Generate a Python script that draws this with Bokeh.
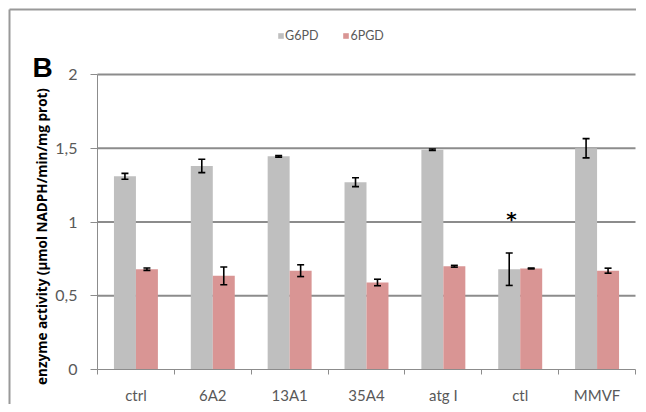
import numpy as np
from bokeh.plotting import figure
from bokeh.models import (ColumnDataSource, Range1d, FixedTicker, CustomJSTickFormatter,
                          Whisker, TeeHead, Legend, LegendItem, Label)
from bokeh.embed import file_html
from bokeh.resources import INLINE

# ---- data ----
categories = ["ctrl", "6A2", "13A1", "35A4", "atg I", "ctl", "MMVF"]
g6pd = [1.31, 1.38, 1.445, 1.27, 1.49, 0.68, 1.50]
g6pd_err = [0.02, 0.045, 0.005, 0.03, 0.005, 0.11, 0.065]
pgd = [0.68, 0.635, 0.67, 0.59, 0.70, 0.685, 0.67]
pgd_err = [0.008, 0.06, 0.04, 0.022, 0.006, 0.003, 0.017]
y_ticks = [0, 0.5, 1, 1.5, 2]
y_tick_labels = ["0", "0,5", "1", "1,5", "2"]
series_names = ["G6PD", "6PGD"]
y_label = "enzyme activity (µmol NADPH/min/mg prot)"
panel_letter = "B"
star_category = "ctl"
star_value = 1.02

# ---- layout (pixels on the canvas) ----
W, H = 636, 404
PX_X0, PX_X1 = 97, 635      # where x = 0 and x = n_categories fall
PX_Y0, PX_Y2 = 369, 74      # where y = 0 and y = 2 fall
PX_BORDER = 9               # outer frame lines (left / top)

GRAY = "#BFBFBF"
PINK = "#D99594"
AXIS = "#8C8C8C"
TXT = "#595959"
FONT = "Lato"

n = len(categories)
sx = (PX_X1 - PX_X0) / n
sy = (PX_Y0 - PX_Y2) / 2.0
x_lo, x_hi = -PX_X0 / sx, (W - PX_X0) / sx
y_lo, y_hi = -(H - PX_Y0) / sy, PX_Y0 / sy
x_range = Range1d(x_lo, x_hi)
y_range = Range1d(y_lo, y_hi)

idx = np.arange(n)
half = 0.143
src = ColumnDataSource(dict(
    xg=idx + 0.5 - half, xp=idx + 0.5 + half,
    g=g6pd, p=pgd,
    g_up=np.array(g6pd) + np.array(g6pd_err), g_lo=np.array(g6pd) - np.array(g6pd_err),
    p_up=np.array(pgd) + np.array(pgd_err), p_lo=np.array(pgd) - np.array(pgd_err),
))

p = figure(width=W, height=H, output_backend="svg", toolbar_location=None,
           x_range=x_range, y_range=y_range,
           min_border_left=0, min_border_right=0, min_border_top=0, min_border_bottom=0)
p.outline_line_color = None
p.background_fill_color = "white"
p.border_fill_color = "white"
p.grid.visible = False

# outer frame lines (left and top)
bx = (PX_BORDER - PX_X0) / sx
by = (PX_Y0 - PX_BORDER) / sy
p.segment(x0=[bx, bx], x1=[bx, x_hi + 1], y0=[y_lo - 1, by], y1=[by, by],
          line_color="#999999", line_width=2)

# gridlines
grid_vals = [t for t in y_ticks if t > 0]
p.segment(x0=[0] * len(grid_vals), x1=[n] * len(grid_vals), y0=grid_vals, y1=grid_vals,
          line_color=AXIS, line_width=2)

rg = p.vbar(x="xg", top="g", width=2 * half, bottom=0, source=src,
            fill_color=GRAY, line_color=None)
rp = p.vbar(x="xp", top="p", width=2 * half, bottom=0, source=src,
            fill_color=PINK, line_color=None)

for base, up, lo in (("xg", "g_up", "g_lo"), ("xp", "p_up", "p_lo")):
    w = Whisker(source=src, base=base, upper=up, lower=lo, dimension="height",
                line_color="black", line_width=1.6, level="annotation",
                upper_head=TeeHead(size=7, line_color="black", line_width=1.6),
                lower_head=TeeHead(size=7, line_color="black", line_width=1.6))
    p.add_layout(w)

# star
si = categories.index(star_category)
p.add_layout(Label(x=si + 0.5 - half + 0.03, y=star_value, text="*", text_align="center",
                   text_baseline="middle", text_font="DejaVu Sans", text_font_style="bold",
                   text_font_size="20px", text_color="black"))

# axes (drawn at the data origin inside the frame)
xa = p.xaxis[0]
xa.fixed_location = 0
xa.bounds = (0, n)
xa.ticker = FixedTicker(ticks=list(idx + 0.5), minor_ticks=list(range(n + 1)))
xa.formatter = CustomJSTickFormatter(args=dict(names=categories),
                                     code="return names[Math.floor(tick)] || '';")
xa.major_tick_in = 0
xa.major_tick_out = 0
xa.minor_tick_in = 0
xa.minor_tick_out = 5
xa.minor_tick_line_color = AXIS
xa.axis_line_color = AXIS
xa.major_label_text_font = FONT
xa.major_label_text_font_size = "15px"
xa.major_label_text_color = TXT
xa.major_label_standoff = 11

ya = p.yaxis[0]
ya.fixed_location = 0
ya.bounds = (0, 2)
ya.ticker = FixedTicker(ticks=y_ticks)
ya.formatter = CustomJSTickFormatter(args=dict(vals=y_ticks, labels=y_tick_labels),
                                     code="const i = vals.indexOf(tick); return i >= 0 ? labels[i] : '';")
ya.major_tick_in = 0
ya.major_tick_out = 7
ya.minor_tick_line_color = None
ya.major_tick_line_color = AXIS
ya.axis_line_color = AXIS
ya.major_label_text_font = FONT
ya.major_label_text_font_size = "16px"
ya.major_label_text_color = TXT
ya.major_label_standoff = 13

# y label and panel letter
p.add_layout(Label(x=41, y=H - 236, x_units="screen", y_units="screen",
                   text=y_label, angle=np.pi / 2,
                   text_align="center", text_baseline="middle", text_font="Open Sans",
                   text_font_style="bold", text_font_size="13.5px", text_color="black"))
p.add_layout(Label(x=42, y=H - 67, x_units="screen", y_units="screen", text=panel_letter,
                   text_align="center", text_baseline="middle", text_font="Liberation Sans",
                   text_font_style="bold", text_font_size="28px", text_color="black"))

legend = Legend(items=[LegendItem(label=series_names[0], renderers=[rg]),
                       LegendItem(label=series_names[1], renderers=[rp])],
                orientation="horizontal", location=(277, H - 43),
                padding=0, margin=0, spacing=24, label_standoff=1,
                glyph_width=7, glyph_height=7, label_height=14,
                label_text_font=FONT, label_text_font_size="12.5px", label_text_color=TXT,
                background_fill_alpha=0, border_line_color=None)
p.add_layout(legend, "center")

open("out.html", "w").write(file_html(p, INLINE))
